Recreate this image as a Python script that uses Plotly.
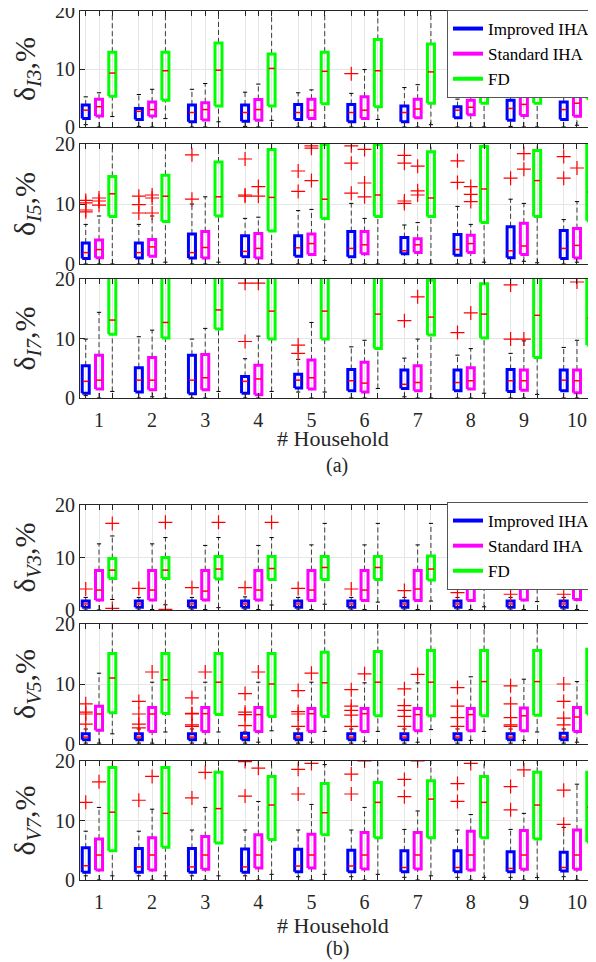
import plotly.graph_objects as go

# ---------------- data ----------------
HOUSEHOLDS = [1, 2, 3, 4, 5, 6, 7, 8, 9, 10]
HOUSEHOLD_LABELS = ["1", "2", "3", "4", "5", "6", "7", "8", "9", "10"]
METHODS = ["Improved IHA", "Standard IHA", "FD"]
METHOD_COLORS = ["#0000ff", "#ff00ff", "#00ff00"]
METHOD_OFFSETS = [-0.25, 0.0, 0.25]
Y_TICKS = [0, 10, 20]
Y_TITLES = ["I3", "I5", "I7", "V3", "V5", "V7"]

I3_improved = dict(
    lo=[0.4, 0.1, 0.0, 0.1, 0.0, 0.0, 0.0, 0.0, 0.1, 0.0],
    q1=[1.45, 1.3, 0.9, 1.0, 1.3, 0.9, 0.9, 1.6, 1.15, 1.3],
    med=[2.9, 2.7, 2.5, 2.5, 2.5, 2.5, 2.5, 2.9, 3.2, 3.0],
    q3=[3.8, 3.2, 3.8, 3.8, 3.9, 3.9, 3.6, 3.5, 4.6, 4.3],
    hi=[5.2, 5.6, 6.5, 6.0, 5.9, 5.8, 6.8, 4.8, 6.5, 6.7],
    out=[[], [], [], [], [], [9.2], [], [8.3, 6.8, 6.2], [], []])
I3_standard = dict(
    lo=[0.0, 0.0, 0.0, 0.0, 0.0, 0.0, 0.0, 0.0, 0.0, 0.3],
    q1=[1.9, 1.9, 1.2, 1.15, 1.45, 1.45, 1.6, 2.1, 2.0, 1.85],
    med=[3.5, 3.0, 3.0, 3.0, 2.9, 2.9, 3.1, 3.4, 3.9, 4.1],
    q3=[4.8, 4.3, 4.2, 4.75, 4.8, 5.2, 4.8, 4.6, 5.5, 5.5],
    hi=[5.9, 6.5, 7.5, 7.4, 6.4, 9.9, 7.3, 7.1, 6.8, 7.5],
    out=[[], [], [], [], [], [], [], [], [], []])
I3_fd = dict(
    lo=[1.8, 1.45, 0.9, 1.15, 0.0, 1.3, 0.4, 0.0, 0.0, 0.0],
    q1=[5.3, 4.6, 3.6, 3.6, 4.0, 3.5, 4.1, 4.1, 4.1, 4.9],
    med=[9.3, 9.7, 9.8, 10.1, 9.6, 9.7, 9.5, 9.5, 9.8, 9.5],
    q3=[12.9, 12.9, 14.5, 12.6, 12.9, 15.1, 14.3, 13.0, 14.0, 13.5],
    hi=[22.0, 22.0, 22.0, 22.0, 22.0, 22.0, 22.0, 22.0, 22.0, 22.0],
    out=[[], [], [], [], [], [], [], [], [], []])

I5_improved = dict(
    lo=[0.0, 0.0, 0.0, 0.0, 0.0, 0.0, 0.0, 0.0, 0.0, 0.0],
    q1=[0.9, 1.0, 1.0, 1.2, 1.3, 1.2, 1.7, 1.45, 1.05, 0.9],
    med=[1.9, 1.9, 1.9, 2.1, 2.7, 2.6, 2.2, 2.4, 2.2, 2.6],
    q3=[3.5, 3.5, 5.0, 4.7, 4.7, 5.4, 4.4, 4.9, 6.2, 5.6],
    hi=[6.6, 6.6, 10.0, 7.6, 8.9, 10.1, 6.5, 9.6, 10.8, 7.4],
    out=[[10.6, 10.2, 9.0, 8.7], [11.3, 9.9, 8.5], [18.2, 10.8], [17.5, 11.5, 11.3],
         [15.5, 12.1], [19.7, 16.8, 11.8], [18.1, 16.8, 10.5, 10.1], [17.2, 13.6],
         [14.3], [17.9, 14.3]])
I5_standard = dict(
    lo=[0.0, 0.0, 0.0, 0.0, 0.0, 0.0, 0.0, 0.0, 0.45, 0.3],
    q1=[1.05, 1.3, 1.0, 1.0, 1.6, 1.7, 1.9, 1.9, 1.6, 1.0],
    med=[2.4, 2.85, 2.75, 2.6, 3.4, 3.2, 3.2, 3.4, 3.0, 3.1],
    q3=[4.0, 4.1, 5.4, 5.1, 5.0, 5.4, 4.2, 4.8, 6.8, 5.9],
    hi=[8.0, 8.0, 11.2, 7.8, 9.1, 7.6, 6.9, 6.6, 10.1, 10.4],
    out=[[11.0, 10.5, 9.8], [11.5, 11.0, 8.5], [], [12.9, 11.3], [19.7, 19.3, 13.9],
         [19.1, 13.5, 11.2], [16.3, 12.2, 11.5], [12.9, 11.6, 10.4], [18.4, 15.8], [16.0]])
I5_fd = dict(
    lo=[0.0, 0.3, 0.3, 0.0, 0.6, 0.0, 0.0, 0.3, 0.2, 0.0],
    q1=[7.9, 7.1, 8.0, 5.5, 7.6, 7.9, 7.9, 6.9, 7.9, 7.2],
    med=[11.7, 11.3, 11.2, 11.1, 10.8, 11.5, 11.0, 12.5, 13.9, 12.0],
    q3=[14.6, 14.8, 17.0, 19.1, 19.9, 19.9, 18.7, 19.6, 18.9, 19.9],
    hi=[22.0, 22.0, 22.0, 22.0, 22.0, 22.0, 22.0, 22.0, 22.0, 22.0],
    out=[[], [], [], [], [], [], [], [], [], []])

I7_improved = dict(
    lo=[0.4, 0.0, 0.0, 0.0, 1.0, 0.0, 0.2, 0.0, 0.0, 0.0],
    q1=[0.8, 1.0, 0.7, 0.8, 1.7, 1.2, 1.6, 1.2, 1.1, 1.2],
    med=[2.8, 3.0, 3.0, 2.8, 3.0, 2.9, 2.3, 2.6, 2.9, 3.0],
    q3=[5.4, 5.1, 7.2, 3.6, 4.0, 4.8, 4.7, 4.7, 4.8, 4.7],
    hi=[9.9, 10.3, 9.9, 6.6, 6.5, 8.6, 6.7, 7.2, 7.5, 8.5],
    out=[[], [], [], [19.3, 9.5], [8.9, 7.5], [], [13.0], [11.0], [19.0, 9.9], []])
I7_standard = dict(
    lo=[0.0, 0.2, 0.0, 0.0, 0.0, 0.0, 0.0, 0.0, 0.0, 0.0],
    q1=[1.5, 1.4, 1.4, 0.55, 1.5, 1.0, 1.2, 1.5, 1.3, 0.9],
    med=[3.0, 3.0, 3.4, 3.2, 3.4, 2.5, 2.6, 2.9, 2.9, 2.9],
    q3=[7.2, 6.8, 7.3, 5.5, 6.4, 6.0, 5.4, 5.1, 4.7, 4.7],
    hi=[14.4, 11.4, 11.7, 10.4, 12.7, 9.7, 9.9, 8.3, 9.6, 9.7],
    out=[[], [], [], [19.3], [], [], [17.0], [14.3], [9.9], [19.5]])
I7_fd = dict(
    lo=[1.1, 0.0, 1.1, 1.1, 1.0, 1.6, 0.0, 0.8, 0.6, 0.6],
    q1=[10.7, 10.1, 11.6, 9.9, 9.9, 8.3, 10.6, 10.1, 6.8, 8.9],
    med=[13.1, 12.7, 14.8, 14.6, 14.6, 14.1, 13.6, 14.1, 13.9, 13.4],
    q3=[22.0, 22.0, 22.0, 22.0, 22.0, 22.0, 19.8, 19.2, 22.0, 22.0],
    hi=[25.0, 25.0, 25.0, 25.0, 25.0, 25.0, 25.0, 25.0, 25.0, 25.0],
    out=[[], [], [], [], [], [], [], [], [], []])

V3_improved = dict(
    lo=[0.0, 0.0, 0.0, 0.0, 0.0, 0.0, 0.0, 0.0, 0.0, 0.0],
    q1=[0.5, 0.5, 0.5, 0.5, 0.5, 0.5, 0.5, 0.5, 0.5, 0.5],
    med=[1.15, 1.15, 1.15, 1.15, 1.15, 1.15, 1.15, 1.15, 1.15, 1.15],
    q3=[1.7, 1.7, 1.7, 1.7, 1.7, 1.7, 1.7, 1.7, 1.7, 1.7],
    hi=[2.4, 2.4, 2.4, 2.5, 2.4, 2.4, 2.4, 2.4, 2.4, 2.4],
    out=[[4.0], [4.1], [4.25], [4.25], [4.1], [4.0], [3.7], [3.3], [3.0], [3.0]])
V3_standard = dict(
    lo=[0.0, 0.1, 0.1, 0.1, 0.1, 0.1, 0.1, 0.1, 0.1, 0.1],
    q1=[1.9, 1.9, 1.9, 1.9, 1.8, 1.8, 1.8, 1.8, 1.9, 2.0],
    med=[3.8, 3.8, 3.6, 3.8, 3.8, 3.8, 4.0, 4.0, 4.0, 4.0],
    q3=[7.5, 7.5, 7.5, 7.5, 7.5, 7.5, 7.5, 7.7, 7.6, 7.6],
    hi=[12.6, 12.6, 12.3, 12.3, 12.4, 12.4, 12.4, 12.4, 12.4, 12.4],
    out=[[], [], [], [], [], [], [], [], [], []])
V3_fd = dict(
    lo=[2.0, 1.0, 0.45, 0.95, 1.1, 1.5, 1.7, 0.6, 1.6, 1.5],
    q1=[6.0, 6.0, 5.9, 5.8, 5.8, 5.8, 5.7, 5.5, 5.3, 5.3],
    med=[7.6, 7.6, 7.8, 7.9, 8.1, 8.1, 7.8, 7.6, 7.6, 7.4],
    q3=[9.8, 10.0, 10.2, 10.2, 10.2, 10.2, 10.3, 10.0, 10.0, 10.0],
    hi=[14.1, 13.8, 13.8, 13.8, 16.5, 16.5, 16.5, 16.5, 16.5, 16.5],
    out=[[16.5, 0.3], [16.7, 0.1], [16.7], [16.7], [], [], [], [], [], []])

V5_improved = dict(
    lo=[0.15, 0.15, 0.15, 0.15, 0.15, 0.15, 0.15, 0.15, 0.15, 0.15],
    q1=[0.7, 0.7, 0.7, 0.7, 0.7, 0.7, 0.7, 0.7, 0.7, 0.7],
    med=[1.15, 1.15, 1.15, 1.15, 1.15, 1.15, 1.15, 1.15, 1.15, 1.15],
    q3=[1.7, 1.7, 1.7, 1.8, 1.7, 1.7, 1.7, 1.7, 1.7, 1.8],
    hi=[2.5, 2.5, 2.5, 2.0, 2.5, 2.5, 2.5, 2.5, 2.5, 2.5],
    out=[[6.7, 5.3, 5.0, 3.3], [7.1, 5.0, 3.3, 2.7], [7.7, 5.1, 5.0, 3.2, 2.95],
         [8.4, 5.3, 4.9, 3.05], [8.9, 5.4, 5.0, 2.95], [9.05, 6.3, 5.6, 4.8, 2.95],
         [9.2, 6.4, 5.6, 4.6, 2.95], [9.4, 6.3, 4.4, 2.95], [9.7, 6.7, 4.4, 3.2, 2.95],
         [10.0, 7.1, 4.3, 3.2]])
V5_standard = dict(
    lo=[0.15, 0.15, 0.15, 0.3, 0.3, 0.45, 0.3, 0.6, 0.6, 0.3],
    q1=[2.3, 2.1, 2.1, 2.1, 2.1, 2.1, 2.2, 2.2, 2.2, 2.1],
    med=[5.0, 5.0, 5.05, 4.9, 5.05, 5.05, 4.9, 4.9, 4.7, 4.5],
    q3=[6.3, 6.1, 6.1, 6.1, 5.9, 5.9, 5.9, 5.9, 6.0, 6.1],
    hi=[11.8, 10.3, 10.3, 10.3, 10.3, 10.2, 10.2, 11.2, 10.8, 10.4],
    out=[[], [12.0], [12.0], [12.0], [11.8], [11.7], [11.6], [], [], []])
V5_fd = dict(
    lo=[1.7, 2.0, 2.0, 2.2, 2.1, 2.1, 2.4, 2.1, 2.0, 1.7],
    q1=[5.2, 5.1, 4.9, 4.6, 4.6, 4.7, 4.7, 4.7, 4.8, 5.0],
    med=[11.0, 10.7, 10.3, 10.0, 10.2, 10.3, 10.3, 10.4, 10.4, 10.6],
    q3=[15.1, 15.1, 15.1, 15.1, 15.3, 15.4, 15.6, 15.6, 15.6, 15.8],
    hi=[22.0, 22.0, 22.0, 22.0, 22.0, 22.0, 22.0, 22.0, 22.0, 22.0],
    out=[[], [], [], [], [], [], [], [], [], []])

V7_improved = dict(
    lo=[0.7, 0.7, 0.7, 0.7, 0.55, 0.55, 0.45, 0.45, 0.45, 0.55],
    q1=[1.3, 1.3, 1.3, 1.3, 1.4, 1.4, 1.4, 1.4, 1.4, 1.5],
    med=[2.4, 2.2, 2.2, 2.2, 2.35, 2.35, 2.1, 2.1, 1.95, 2.1],
    q3=[5.4, 5.3, 5.3, 5.2, 5.15, 5.0, 4.9, 4.9, 4.75, 4.65],
    hi=[8.2, 8.2, 8.4, 8.4, 8.4, 8.4, 8.5, 8.4, 8.5, 8.85],
    out=[[13.05], [13.4], [13.8], [19.9, 14.1], [18.6, 14.45], [17.8, 14.45],
         [16.9, 14.0], [16.2, 13.2], [15.7, 11.8], [15.1, 9.35]])
V7_standard = dict(
    lo=[0.0, 0.0, 0.0, 0.0, 0.0, 0.0, 0.0, 0.0, 0.0, 0.0],
    q1=[1.7, 1.7, 1.8, 2.0, 2.0, 1.85, 1.85, 1.7, 1.8, 1.8],
    med=[4.2, 4.2, 4.2, 4.2, 4.2, 4.2, 4.2, 4.2, 4.2, 4.2],
    q3=[6.9, 7.1, 7.3, 7.6, 7.7, 8.0, 8.0, 8.2, 8.3, 8.4],
    hi=[12.2, 11.9, 12.2, 13.2, 12.7, 12.2, 11.6, 11.0, 11.2, 16.1],
    out=[[16.5], [17.4], [18.1], [18.8], [19.6], [20.0], [20.0], [19.6], [18.5], []])
V7_fd = dict(
    lo=[0.7, 0.7, 0.7, 0.95, 0.95, 0.95, 0.7, 0.45, 0.4, 0.0],
    q1=[4.9, 5.5, 6.2, 6.8, 7.6, 7.1, 7.1, 7.1, 6.9, 6.4],
    med=[11.4, 11.2, 12.0, 12.6, 11.3, 13.05, 13.6, 13.05, 12.6, 12.2],
    q3=[18.9, 18.9, 18.1, 17.4, 16.2, 16.4, 16.7, 17.4, 18.1, 18.1],
    hi=[22.0, 22.0, 22.0, 22.0, 19.4, 22.0, 22.0, 22.0, 22.0, 22.0],
    out=[[], [], [], [], [], [], [], [], [], []])

PANELS = [
    [I3_improved, I3_standard, I3_fd],
    [I5_improved, I5_standard, I5_fd],
    [I7_improved, I7_standard, I7_fd],
    [V3_improved, V3_standard, V3_fd],
    [V5_improved, V5_standard, V5_fd],
    [V7_improved, V7_standard, V7_fd],
]

# ---------------- layout constants ----------------
# the page body adds an 8px offset, so the figure is drawn 8px smaller
OFF = 8
W, H = 596 - OFF, 962 - OFF
ML = 80 - OFF
FONT = "Liberation Serif, Times New Roman, serif"
TXT = "#262626"
PANEL_PX = [(11, 127), (144, 264), (279, 398), (505, 610), (624, 744), (761, 880)]
X_RANGE = [0.642, 10.358]
BOX_HW = 0.066
MED_HW = 0.055
CAP_HW = 0.04


def py(p):
    return 1 - (p - OFF) / H


def px_x(p):
    return (p - OFF - ML) / (W - ML)


fig = go.Figure()

all_pos = sorted(h + o for h in HOUSEHOLDS for o in METHOD_OFFSETS)
tick_text = []
for p in all_pos:
    lab = ""
    for h, l in zip(HOUSEHOLDS, HOUSEHOLD_LABELS):
        if abs(p - h) < 1e-9:
            lab = l
    tick_text.append(lab)

for i, stats in enumerate(PANELS):
    sfx = "" if i == 0 else str(i + 1)
    xa, ya = "x" + sfx, "y" + sfx
    for m, st in enumerate(stats):
        xs = [h + METHOD_OFFSETS[m] for h in HOUSEHOLDS]
        wx, wy, cx, cy, bx, by, mx, my, ox, oy = [], [], [], [], [], [], [], [], [], []
        for k, x in enumerate(xs):
            lo, q1, md, q3, hi = st["lo"][k], st["q1"][k], st["med"][k], st["q3"][k], st["hi"][k]
            wx += [x, x, None, x, x, None]
            wy += [q3, hi, None, lo, q1, None]
            cx += [x - CAP_HW, x + CAP_HW, None, x - CAP_HW, x + CAP_HW, None]
            cy += [hi, hi, None, lo, lo, None]
            bx += [x - BOX_HW, x + BOX_HW, x + BOX_HW, x - BOX_HW, x - BOX_HW, None]
            by += [q1, q1, q3, q3, q1, None]
            mx += [x - MED_HW, x + MED_HW, None]
            my += [md, md, None]
            for v in st["out"][k]:
                ox.append(x)
                oy.append(v)
        fig.add_trace(go.Scatter(x=wx, y=wy, mode="lines", xaxis=xa, yaxis=ya,
                                 line=dict(color="#3c3c3c", width=1, dash="5px,3px"),
                                 showlegend=False, hoverinfo="skip"))
        fig.add_trace(go.Scatter(x=cx, y=cy, mode="lines", xaxis=xa, yaxis=ya,
                                 line=dict(color="#000000", width=1),
                                 showlegend=False, hoverinfo="skip"))
        fig.add_trace(go.Scatter(x=bx, y=by, mode="lines", xaxis=xa, yaxis=ya,
                                 line=dict(color=METHOD_COLORS[m], width=3),
                                 showlegend=False, hoverinfo="skip"))
        fig.add_trace(go.Scatter(x=mx, y=my, mode="lines", xaxis=xa, yaxis=ya,
                                 line=dict(color="#ff0000", width=1.5),
                                 showlegend=False, hoverinfo="skip"))
        if ox:
            fig.add_trace(go.Scatter(x=ox, y=oy, mode="markers", xaxis=xa, yaxis=ya,
                                     marker=dict(symbol="cross-thin", size=10,
                                                 line=dict(color="#ff0000", width=1.2)),
                                     showlegend=False, hoverinfo="skip"))

# legends
for lg, xa, ya in (("legend", "x", "y"), ("legend2", "x4", "y4")):
    for name, col in zip(METHODS, METHOD_COLORS):
        fig.add_trace(go.Scatter(x=[None], y=[None], mode="lines", name=name,
                                 xaxis=xa, yaxis=ya,
                                 line=dict(color=col, width=4), legend=lg))

layout = dict(
    template="none",
    width=W, height=H,
    margin=dict(l=ML, r=0, t=0, b=0, autoexpand=False),
    paper_bgcolor="white", plot_bgcolor="white",
    font=dict(family=FONT, color=TXT, size=20),
    showlegend=True,
)
for i in range(6):
    sfx = "" if i == 0 else str(i + 1)
    top, bot = PANEL_PX[i]
    layout["xaxis" + sfx] = dict(
        domain=[0, 1], range=X_RANGE, anchor="y" + sfx, automargin=False,
        tickmode="array", tickvals=all_pos, ticktext=tick_text,
        showticklabels=(i in (2, 5)), ticks="inside", ticklen=5,
        tickcolor=TXT, mirror="ticks", showline=True, linecolor=TXT, linewidth=1,
        showgrid=True, gridcolor="#e6e6e6", gridwidth=1, zeroline=False,
        tickfont=dict(family=FONT, size=20, color=TXT), ticklabelstandoff=4,
        ticklabeloverflow="allow",
    )
    layout["yaxis" + sfx] = dict(
        domain=[py(bot), py(top)], range=[0, 20], anchor="x" + sfx, automargin=False,
        tickmode="array", tickvals=Y_TICKS, ticks="inside", ticklen=5,
        tickcolor=TXT, mirror="ticks", showline=True, linecolor=TXT, linewidth=1,
        showgrid=True, gridcolor="#e6e6e6", gridwidth=1, zeroline=False,
        tickfont=dict(family=FONT, size=20, color=TXT), ticklabeloverflow="allow",
        title=dict(text="δ<sub><i>" + Y_TITLES[i] + "</i></sub>,%",
                   font=dict(family=FONT, size=30, color=TXT), standoff=22),
    )

leg_common = dict(bgcolor="white", bordercolor="#555555", borderwidth=1,
                  font=dict(family=FONT, size=17, color="#000000"),
                  xanchor="right", yanchor="top", x=1.0, tracegroupgap=0)
layout["legend"] = dict(leg_common, y=py(10))
layout["legend2"] = dict(leg_common, y=py(502))

ann_font_l = dict(family=FONT, size=22, color=TXT)
ann_font_s = dict(family=FONT, size=20, color=TXT)
layout["annotations"] = [
    dict(text="# Household", x=px_x(333), y=py(438), font=ann_font_l),
    dict(text="(a)", x=px_x(337), y=py(465), font=ann_font_s),
    dict(text="# Household", x=px_x(333), y=py(925), font=ann_font_l),
    dict(text="(b)", x=px_x(337), y=py(948), font=ann_font_s),
]
for a in layout["annotations"]:
    a.update(xref="paper", yref="paper", showarrow=False,
             xanchor="center", yanchor="middle")
fig.update_layout(**layout)
fig.write_html("out.html")
